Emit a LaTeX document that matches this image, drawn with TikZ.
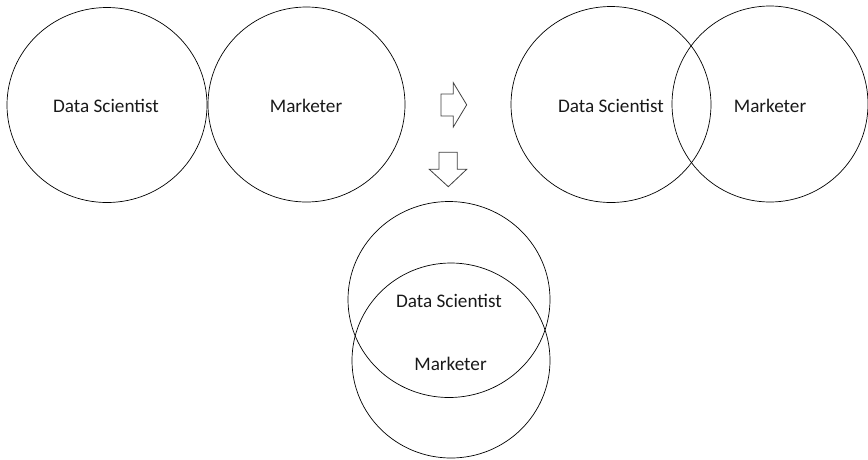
\documentclass[tikz,border=0pt]{standalone}
\usepackage{fontspec}
\setmainfont{Carlito}
\usetikzlibrary{shapes.geometric}

\begin{document}
\begin{tikzpicture}[x=1pt, y=-1pt,
  default/.style={draw=black, line width=0.7pt, ellipse, inner sep=0pt},
  label/.style={font=\fontsize{19.2}{23}\selectfont, text=black!90},
  block/.style={draw=black!75, line width=0.8pt, fill=white, line join=miter}]
\useasboundingbox (0,0) rectangle (868,459);
% apart
\node[default, minimum width=200, minimum height=195] (A) at (107,105) {};
\node[default, minimum width=197, minimum height=195] (B) at (306.5,104.5) {};
\node[label] (A-text) at (106,106) {Data Scientist};
\node[label] (B-text) at (306,106) {Marketer};
% overlapping
\node[default, minimum width=200, minimum height=196] (C) at (611,104.5) {};
\node[default, minimum width=196, minimum height=196] (D) at (770,104) {};
\node[label] (C-text) at (611,106) {Data Scientist};
\node[label] (D-text) at (770,106) {Marketer};
% nearly the same
\node[default, minimum width=202, minimum height=196] (E) at (449,299.5) {};
\node[default, minimum width=198, minimum height=195] (F) at (451,360.5) {};
\node[label] (E-text) at (449,301) {Data Scientist};
\node[label] (F-text) at (450.5,364) {Marketer};
% arrows
\draw[block] (441,94) -- (453.3,94) -- (453.3,82.7) -- (466.7,104.8)
  -- (453.3,127) -- (453.3,116) -- (441,116) -- cycle;
\draw[block] (439,152.3) -- (457.3,152.3) -- (457.3,169.3) -- (466.7,169.3)
  -- (448.3,186.7) -- (429.3,169.3) -- (439,169.3) -- cycle;
\end{tikzpicture}
\end{document}
